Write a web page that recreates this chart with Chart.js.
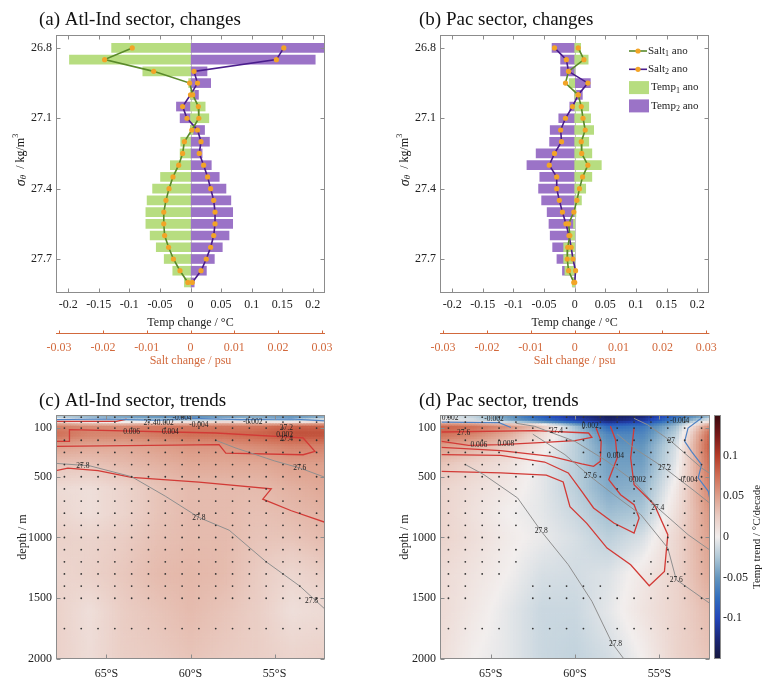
<!DOCTYPE html>
<html>
<head>
<meta charset="utf-8">
<title>Temperature and salinity changes and trends</title>
<script src="https://cdn.jsdelivr.net/npm/chart.js@4.4.1/dist/chart.umd.min.js"></script>
<style>
  body { margin: 0; background: #fff; }
  #fig { position: relative; width: 763px; height: 680px; overflow: hidden; background: #fff; }
  .panel { position: absolute; }
</style>
</head>
<body>
<div id="fig">
  <div class="panel" style="left:0;top:0;width:345px;height:380px"><canvas id="chartA"></canvas></div>
  <div class="panel" style="left:380px;top:0;width:345px;height:380px"><canvas id="chartB"></canvas></div>
  <div class="panel" style="left:0;top:380px;width:345px;height:300px"><canvas id="chartC"></canvas></div>
  <div class="panel" style="left:380px;top:380px;width:383px;height:300px"><canvas id="chartD"></canvas></div>
</div>
<script>
const FONT = "'Liberation Serif', 'Times New Roman', serif";
Chart.defaults.font.family = FONT;
Chart.defaults.color = '#222';

// ---- profiles (a), (b): density levels, kg/m3
const sigmaLevels = [26.8, 26.85, 26.9, 26.95, 27.0, 27.05, 27.1, 27.15, 27.2, 27.25, 27.3,
  27.35, 27.4, 27.45, 27.5, 27.55, 27.6, 27.65, 27.7, 27.75, 27.8];
const sigmaTicks = [26.8, 27.1, 27.4, 27.7];
const tempTicks = [-0.2, -0.15, -0.1, -0.05, 0, 0.05, 0.1, 0.15, 0.2];
const saltTicks = [-0.03, -0.02, -0.01, 0, 0.01, 0.02, 0.03];

// (a) Atl-Ind sector
const tempAtl1 = [-0.129, -0.198, -0.078, -0.003, 0.006, 0.024, 0.030, 0.004, -0.016, -0.017, -0.033,
  -0.049, -0.062, -0.071, -0.073, -0.073, -0.066, -0.056, -0.043, -0.029, -0.010];
const tempAtl2 = [0.23, 0.204, 0.027, 0.033, 0.013, -0.023, -0.017, 0.023, 0.031, 0.019, 0.034,
  0.047, 0.058, 0.066, 0.069, 0.069, 0.063, 0.052, 0.039, 0.026, 0.006];
const saltAtl1 = [-0.0133, -0.0196, -0.0084, -0.0002, 0.0005, 0.0018, 0.0019, 0.0003, -0.0014, -0.0018, -0.0027,
  -0.0040, -0.0049, -0.0056, -0.0061, -0.0061, -0.0059, -0.0050, -0.0039, -0.0024, -0.0006];
const saltAtl2 = [0.0213, 0.0196, 0.0008, 0.0016, 0.0000, -0.0018, -0.0008, 0.0016, 0.0024, 0.0020, 0.0030,
  0.0039, 0.0046, 0.0053, 0.0056, 0.0056, 0.0053, 0.0046, 0.0036, 0.0024, 0.0004];

// (b) Pac sector
const tempPac1 = [0.0098, 0.022, 0.0, -0.009, 0.002, 0.023, 0.026, 0.031, 0.023, 0.028, 0.0435,
  0.028, 0.018, 0.011, 0.002, -0.002, -0.008, -0.018, -0.018, -0.016, -0.004];
const tempPac2 = [-0.037, -0.023, -0.023, 0.0256, 0.0125, -0.008, -0.026, -0.040, -0.041, -0.063, -0.078,
  -0.057, -0.059, -0.054, -0.045, -0.042, -0.040, -0.036, -0.029, -0.020, -0.003];
const saltPac1 = [0.0008, 0.0021, -0.0014, -0.0021, 0.0008, 0.0015, 0.0019, 0.0024, 0.0015, 0.0016, 0.0030,
  0.0018, 0.0011, 0.0005, -0.0002, -0.0014, -0.0011, -0.0016, -0.0017, -0.0014, -0.0002];
const saltPac2 = [-0.0046, -0.0019, -0.0014, 0.0030, 0.0008, -0.0005, -0.0021, -0.0032, -0.0030, -0.0046, -0.0058,
  -0.0041, -0.0041, -0.0035, -0.0028, -0.0020, -0.0013, -0.0008, -0.0004, 0.0002, 0.0000];

// ---- sections (c), (d): temp trend, degC/decade, rows = depth, cols = latitude
const secLats = [-68, -66, -64, -62, -60, -58, -56, -54, -52];
const secDepths = [0, 40, 80, 150, 250, 400, 600, 800, 1000, 1300, 1600, 2000];
const trendAtl = [
  [-0.03, -0.04, -0.05, -0.06, -0.07, -0.06, -0.05, -0.06, -0.05],
  [0.01, -0.01, -0.02, -0.02, -0.01, 0.0, -0.01, -0.02, 0.0],
  [0.065, 0.06, 0.06, 0.07, 0.07, 0.07, 0.07, 0.08, 0.08],
  [0.075, 0.065, 0.065, 0.07, 0.075, 0.075, 0.08, 0.09, 0.09],
  [0.05, 0.045, 0.045, 0.05, 0.055, 0.055, 0.06, 0.065, 0.065],
  [0.03, 0.03, 0.035, 0.04, 0.045, 0.045, 0.045, 0.05, 0.05],
  [0.015, 0.012, 0.02, 0.03, 0.035, 0.035, 0.035, 0.04, 0.045],
  [0.018, 0.012, 0.02, 0.03, 0.035, 0.035, 0.032, 0.035, 0.04],
  [0.022, 0.02, 0.025, 0.032, 0.035, 0.035, 0.03, 0.03, 0.035],
  [0.018, 0.022, 0.028, 0.035, 0.037, 0.035, 0.026, 0.018, 0.025],
  [0.022, 0.012, 0.025, 0.03, 0.035, 0.03, 0.024, 0.012, 0.015],
  [0.022, 0.014, 0.024, 0.026, 0.03, 0.026, 0.024, 0.02, 0.022]
];
const trendPac = [
  [-0.01, -0.02, -0.05, -0.09, -0.12, -0.14, -0.13, -0.08, -0.04],
  [0.0, -0.01, -0.04, -0.07, -0.1, -0.13, -0.11, -0.06, 0.0],
  [0.08, 0.075, 0.06, 0.03, -0.03, -0.08, -0.07, -0.03, 0.06],
  [0.075, 0.065, 0.045, 0.015, -0.02, -0.06, -0.06, -0.02, 0.08],
  [0.05, 0.04, 0.025, 0.005, -0.02, -0.05, -0.05, -0.01, 0.085],
  [0.03, 0.02, 0.01, -0.005, -0.02, -0.045, -0.045, -0.005, 0.075],
  [0.02, 0.012, 0.005, -0.005, -0.02, -0.04, -0.035, 0.005, 0.065],
  [0.02, 0.01, 0.0, -0.005, -0.015, -0.03, -0.025, 0.012, 0.055],
  [0.02, 0.012, 0.003, -0.003, -0.01, -0.02, -0.01, 0.018, 0.05],
  [0.015, 0.008, 0.0, -0.01, -0.012, -0.008, 0.005, 0.02, 0.045],
  [0.015, 0.005, -0.005, -0.015, -0.015, -0.005, 0.008, 0.02, 0.035],
  [0.012, 0.0, -0.005, -0.015, -0.018, -0.012, 0.0, 0.02, 0.03]
];
const latTicks = [-65, -60, -55];
const depthTicks = [100, 500, 1000, 1500, 2000];
const cbarTicks = [-0.1, -0.05, 0, 0.05, 0.1];

// significance stippling
const dotLats = [-67.5, -66.5, -65.5, -64.5, -63.5, -62.5, -61.5, -60.5, -59.5, -58.5, -57.5, -56.5, -55.5, -54.5, -53.5, -52.5];
const dotDepths = [10, 50, 100, 200, 300, 400, 500, 600, 700, 800, 900, 1000, 1100, 1200, 1300, 1400, 1500, 1750, 2000];
const dotMaskAtl = [
  '1111111111111111', '1111111111111111', '1111111111111111', '1111111111111111', '1111111111111111',
  '1111111111111111', '1111111111111111', '1111111111111111', '1111111111111111', '1111111111111111',
  '1111111111111111', '1111111111111111', '1111111111111111', '1111111111111111', '1111111111111111',
  '1111111111111111', '1111111111111111', '1111111111111111', '1111111111111111'
];
const dotMaskPac = [
  '1111111111111111', '1111100011111111', '1111111111111111', '1111111111111111', '1111111011111111',
  '1111110001111111', '1111110001111111', '1111100000111011', '1111100000011011', '1111100000011011',
  '1111100000110111', '1111000000000111', '1111100000000111', '1111100000001111', '1111000000001111',
  '1100011111000110', '1100011111111111', '1111011110111111', '0000000000000000'
];

// contour lines, [lat, depth]
const isoAtl278 = [[-68, 390], [-66, 410], [-63.5, 500], [-61.5, 660], [-59.5, 835], [-57.7, 940], [-55.5, 1200], [-53.5, 1400], [-52, 1590]];
const isoAtl276 = [[-58.5, 200], [-57.3, 264], [-55, 370], [-53.5, 428], [-52, 505]];
const redAtl1 = [[-68, 45], [-64.4, 45], [-63.8, 25]];
const redAtl2 = [[-68, 250], [-58.3, 236], [-57.9, 305], [-53.3, 319], [-52.6, 291], [-53.3, 181], [-58.5, 140],
  [-67.2, 113], [-67.2, 209], [-68, 209]];
const redAtl3 = [[-68, 450], [-67.3, 430], [-65.5, 450], [-63.5, 505], [-59.5, 545], [-55.2, 600], [-55.7, 685], [-54, 780], [-52, 875]];
const blueAtl = [[-68, 30], [-65, 25], [-62, 35], [-60, 20], [-57, 30], [-54, 25], [-52, 40]];
const tagsAtl = [[-63.5, 132, '0.006'], [-62.4, 58, '27.4'], [-61.5, 58, '0.002'], [-60.5, 17, '-0.004'], [-59.5, 77, '-0.004'],
  [-61.2, 132, '0.004'], [-56.3, 50, '-0.002'], [-54.3, 99, '27.2'], [-54.4, 159, '0.002'], [-54.3, 187, '27.4'],
  [-66.4, 414, '27.8'], [-53.5, 428, '27.6'], [-59.5, 840, '27.8'], [-52.8, 1520, '27.8']];

const isoPac278 = [[-66.5, 400], [-65.4, 483], [-63.4, 675], [-62, 949], [-60.4, 1224], [-59, 1525], [-57.8, 1870], [-57.1, 2000]];
const isoPac276 = [[-62.5, 150], [-60.6, 318], [-59.1, 497], [-57.7, 648], [-56.1, 812], [-54.5, 1087], [-54, 1347], [-51.9, 1553]];
const isoPac274 = [[-63.5, 60], [-62.4, 85], [-60, 209], [-58.1, 373], [-56.5, 538], [-55.1, 757], [-53.3, 977], [-51.9, 1114]];
const isoPac272 = [[-57.5, 150], [-56.5, 264], [-54.7, 428], [-52.9, 620], [-51.9, 730]];
const isoPac270 = [[-56.5, 20], [-55.7, 72], [-54.3, 209], [-52.5, 428], [-51.9, 483]];
const redPac1 = [[-67.9, 132], [-62.4, 121], [-59.2, 140], [-59, 176], [-60, 203], [-61.8, 217], [-64.4, 236], [-66.3, 242], [-67.9, 209]];
const redPac2 = [[-67.9, 258], [-64.4, 286], [-61.4, 332], [-59.6, 395], [-58.9, 414], [-58.5, 373], [-58.45, 209], [-58.75, 99]];
const redPac3 = [[-67.9, 318], [-64.4, 324], [-61.8, 379], [-60.4, 469], [-59.6, 620], [-58.9, 757], [-57.7, 881], [-56.5, 963],
  [-56.2, 840], [-56.5, 730], [-57.3, 648], [-58, 524], [-57.5, 346], [-57.6, 195], [-57.9, 85]];
const redPac4 = [[-67.9, 456], [-64.4, 469], [-61.7, 486], [-60.7, 543], [-60.3, 746], [-59.3, 884], [-58.1, 1087], [-56.7, 1224],
  [-55.6, 1397], [-54.7, 1279], [-54.5, 977], [-55.3, 730], [-56.5, 565], [-56.7, 346], [-56.5, 99]];
const bluePac1 = [[-52.5, 17], [-53.3, 99], [-53.5, 209], [-53.1, 291], [-52.5, 401], [-52.7, 510], [-52.1, 620], [-51.9, 757]];
const bluePac2 = [[-67.9, 50], [-64.5, 55], [-63.8, 95]];
const tagsPac = [[-67.4, 17, '0.002'], [-64.8, 22, '-0.002'], [-66.6, 140, '27.6'], [-65.7, 242, '0.006'], [-64.1, 231, '0.008'],
  [-61.1, 121, '27.4'], [-59.1, 85, '0.002'], [-57.6, 332, '0.004'], [-59.1, 497, '27.6'], [-56.3, 524, '0.002'],
  [-55.1, 757, '27.4'], [-54.3, 209, '27'], [-54.7, 428, '27.2'], [-53.8, 44, '-0.004'], [-53.3, 524, '-0.004'],
  [-62, 949, '27.8'], [-54, 1347, '27.6'], [-57.6, 1880, '27.8']];

// ---- styles
const GREEN_BAR = '#b7dd80', PURPLE_BAR = '#9b73c7';
const GREEN_LINE = '#5a8a2a', PURPLE_LINE = '#4a1d8c', ORANGE = '#f2a427', SALT = '#d2693c';
const RED_C = '#d23a36', GRAY_C = '#8f8f8f', BLUE_C = '#4f82c4';
const balance = [
  [-0.15, [22, 23, 60]], [-0.125, [28, 40, 120]], [-0.1, [35, 70, 185]], [-0.075, [50, 110, 190]],
  [-0.05, [100, 150, 190]], [-0.025, [175, 200, 215]], [0, [242, 238, 237]], [0.025, [234, 205, 196]],
  [0.05, [222, 160, 140]], [0.075, [208, 110, 85]], [0.1, [180, 60, 40]], [0.125, [120, 25, 25]], [0.15, [55, 10, 15]]
];

function trendColor(v) {
  const t = Math.max(-0.15, Math.min(0.15, v));
  for (let k = 0; k < balance.length - 1; k++) {
    const a = balance[k], b = balance[k + 1];
    if (t <= b[0]) {
      const f = (t - a[0]) / (b[0] - a[0]);
      const c = a[1].map((ch, n) => Math.round(ch + (b[1][n] - ch) * f));
      return `rgb(${c[0]},${c[1]},${c[2]})`;
    }
  }
  return 'rgb(55,10,15)';
}

function stroke(ctx, x0, y0, x1, y1) {
  ctx.beginPath(); ctx.moveTo(x0, y0); ctx.lineTo(x1, y1); ctx.stroke();
}

function drawRich(ctx, parts, x, y, center) {
  const fontOf = p => (p.italic ? 'italic ' : '') + p.size + 'px ' + FONT;
  let w = 0;
  parts.forEach(p => { ctx.font = fontOf(p); w += ctx.measureText(p.t).width; });
  let cx = center ? x - w / 2 : x;
  ctx.textAlign = 'left';
  parts.forEach(p => {
    ctx.font = fontOf(p);
    ctx.fillText(p.t, cx, y + (p.dy || 0));
    cx += ctx.measureText(p.t).width;
  });
}

const setTicks = list => s => { s.ticks = list.map(v => ({ value: v })); };

// box, inward ticks, panel title, custom axis titles
const frame = {
  id: 'frame',
  beforeDatasetsDraw(chart, args, o) {
    if (!o.zeroLine) return;
    const { ctx, chartArea: ca, scales: { x } } = chart;
    const zx = Math.round(x.getPixelForValue(0)) + 0.5;
    ctx.save();
    ctx.strokeStyle = '#c4c4c4'; ctx.lineWidth = 1;
    stroke(ctx, zx, ca.top, zx, ca.bottom);
    ctx.restore();
  },
  afterDraw(chart, args, o) {
    const { ctx, chartArea: ca, scales } = chart;
    const L = Math.round(ca.left) + 0.5, R = Math.round(ca.right) - 0.5;
    const T = Math.round(ca.top) + 0.5, B = Math.round(ca.bottom) - 0.5;
    ctx.save();
    ctx.strokeStyle = '#8c8c8c'; ctx.lineWidth = 1;
    ctx.strokeRect(L, T, R - L, B - T);
    scales.x.ticks.forEach(t => {
      const px = Math.round(scales.x.getPixelForValue(t.value)) + 0.5;
      stroke(ctx, px, B, px, B - 4); stroke(ctx, px, T, px, T + 4);
    });
    scales.y.ticks.forEach(t => {
      const py = Math.round(scales.y.getPixelForValue(t.value)) + 0.5;
      stroke(ctx, L, py, L + 4, py); stroke(ctx, R, py, R - 4, py);
    });
    if (scales.xs) {
      const xs = scales.xs, yy = Math.round(xs.top) + 0.5;
      ctx.strokeStyle = SALT;
      stroke(ctx, ca.left, yy, ca.right, yy);
      xs.ticks.forEach(t => {
        const px = Math.round(xs.getPixelForValue(t.value)) + 0.5;
        stroke(ctx, px, yy, px, yy - 3);
      });
    }
    ctx.fillStyle = '#111'; ctx.textBaseline = 'middle'; ctx.textAlign = 'left';
    ctx.font = '19px ' + FONT;
    ctx.fillText(o.title, o.titleX, o.titleY);
    if (o.yParts) {
      ctx.save();
      ctx.translate(o.yTitleX, (ca.top + ca.bottom) / 2 + o.yTitleDy);
      ctx.rotate(-Math.PI / 2);
      drawRich(ctx, o.yParts, 0, 0, true);
      ctx.restore();
    }
    ctx.restore();
  }
};

// in-axes legend of panel (b)
const keyBox = {
  id: 'keyBox',
  afterDraw(chart, args, o) {
    if (!o.items) return;
    const ctx = chart.ctx;
    ctx.save(); ctx.textBaseline = 'middle';
    chart.data.datasets.forEach((ds, i) => {
      const y = o.y + i * o.dy;
      let tx;
      if (ds.type === 'line') {
        ctx.strokeStyle = ds.borderColor; ctx.lineWidth = ds.borderWidth;
        stroke(ctx, o.x, y, o.x + 18, y);
        ctx.fillStyle = ds.pointBackgroundColor;
        ctx.beginPath(); ctx.arc(o.x + 9, y, ds.pointRadius, 0, 2 * Math.PI); ctx.fill();
        tx = o.x + 19;
      } else {
        ctx.fillStyle = ds.backgroundColor;
        ctx.fillRect(o.x, y - 6.5, 20, 13);
        tx = o.x + 22;
      }
      ctx.fillStyle = '#222';
      drawRich(ctx, o.items[i], tx, y, false);
    });
    ctx.restore();
  }
};

// shaded trend field, contour labels, colorbar
const section = {
  id: 'section',
  beforeDatasetsDraw(chart, args, o) {
    const { ctx, chartArea: ca, scales: { x, y } } = chart;
    const v = o.values;
    ctx.save();
    ctx.beginPath(); ctx.rect(ca.left, ca.top, ca.width, ca.height); ctx.clip();
    for (let j = 0; j < secDepths.length - 1; j++) {
      for (let i = 0; i < secLats.length - 1; i++) {
        const x0 = x.getPixelForValue(secLats[i]), x1 = x.getPixelForValue(secLats[i + 1]);
        const y0 = j === 0 ? ca.top : y.getPixelForValue(secDepths[j]);
        const y1 = y.getPixelForValue(secDepths[j + 1]);
        const nx = Math.max(1, Math.ceil((x1 - x0) / 3)), ny = Math.max(1, Math.ceil((y1 - y0) / 3));
        for (let a = 0; a < nx; a++) {
          for (let b = 0; b < ny; b++) {
            const u = (a + 0.5) / nx, w = (b + 0.5) / ny;
            const val = v[j][i] * (1 - u) * (1 - w) + v[j][i + 1] * u * (1 - w)
              + v[j + 1][i] * (1 - u) * w + v[j + 1][i + 1] * u * w;
            ctx.fillStyle = trendColor(val);
            ctx.fillRect(x0 + (x1 - x0) * a / nx, y0 + (y1 - y0) * b / ny, (x1 - x0) / nx + 0.7, (y1 - y0) / ny + 0.7);
          }
        }
      }
    }
    ctx.restore();
  },
  afterDatasetsDraw(chart, args, o) {
    const { ctx, chartArea: ca, scales: { x, y } } = chart;
    ctx.save();
    ctx.beginPath(); ctx.rect(ca.left, ca.top, ca.width, ca.height); ctx.clip();
    ctx.fillStyle = '#222'; ctx.font = '7.5px ' + FONT;
    ctx.textAlign = 'center'; ctx.textBaseline = 'middle';
    o.tags.forEach(t => ctx.fillText(t[2], x.getPixelForValue(t[0]), y.getPixelForValue(t[1])));
    ctx.restore();
  },
  afterDraw(chart, args, o) {
    if (!o.colorbar) return;
    const { ctx, chartArea: ca, scales: { cb } } = chart;
    const x0 = Math.round(ca.right) + 4, w = 7;
    const top = cb.getPixelForValue(0.15), bot = cb.getPixelForValue(-0.15);
    const g = ctx.createLinearGradient(0, top, 0, bot);
    balance.forEach(s => g.addColorStop((cb.getPixelForValue(s[0]) - top) / (bot - top), trendColor(s[0])));
    ctx.save();
    ctx.fillStyle = g; ctx.fillRect(x0, top, w, bot - top);
    ctx.strokeStyle = '#8c8c8c'; ctx.lineWidth = 1;
    ctx.strokeRect(x0 + 0.5, top + 0.5, w - 1, bot - top - 1);
    ctx.fillStyle = '#222'; ctx.textBaseline = 'middle';
    ctx.translate(chart.width - 6, (top + bot) / 2);
    ctx.rotate(-Math.PI / 2);
    drawRich(ctx, [{ t: 'Temp trend / \u00b0C/decade', size: 11 }], 0, 0, true);
    ctx.restore();
  }
};

const pairs = (vals, levels) => vals.map((v, i) => ({ x: v, y: levels[i] }));
const sigmaTitle = [{ t: '\u03c3', size: 14, italic: true }, { t: '\u03b8', size: 9, italic: true, dy: 3 },
  { t: '  / kg/m', size: 12 }, { t: '3', size: 8, dy: -5 }];
const keyItems = [
  [{ t: 'Salt', size: 11 }, { t: '1', size: 8, dy: 3 }, { t: ' ano', size: 11 }],
  [{ t: 'Salt', size: 11 }, { t: '2', size: 8, dy: 3 }, { t: ' ano', size: 11 }],
  [{ t: 'Temp', size: 11 }, { t: '1', size: 8, dy: 3 }, { t: ' ano', size: 11 }],
  [{ t: 'Temp', size: 11 }, { t: '2', size: 8, dy: 3 }, { t: ' ano', size: 11 }]
];

function profileChart(id, t1, t2, s1, s2, p) {
  const lineSet = (label, vals, color) => ({
    type: 'line', label, data: pairs(vals, sigmaLevels), xAxisID: 'xs', yAxisID: 'y',
    borderColor: color, borderWidth: 1.6, pointRadius: 2.6, pointBackgroundColor: ORANGE,
    pointBorderWidth: 0, tension: 0, fill: false, order: 0
  });
  const barSet = (label, vals, color, order) => ({
    type: 'bar', label, data: pairs(vals, sigmaLevels), xAxisID: 'x', yAxisID: 'y',
    backgroundColor: color, borderWidth: 0, barThickness: 9, grouped: false, order
  });
  return new Chart(document.getElementById(id), {
    type: 'bar',
    data: {
      datasets: [
        lineSet('Salt\u2081 ano', s1, GREEN_LINE),
        lineSet('Salt\u2082 ano', s2, PURPLE_LINE),
        barSet('Temp\u2081 ano', t1, GREEN_BAR, 1),
        barSet('Temp\u2082 ano', t2, PURPLE_BAR, 2)
      ]
    },
    options: {
      indexAxis: 'y',
      responsive: true, maintainAspectRatio: false, animation: false, events: [],
      layout: { padding: { top: 35, right: p.padRight, left: 0, bottom: 0 } },
      plugins: {
        legend: { display: false }, tooltip: { enabled: false },
        frame: { zeroLine: true, title: p.title, titleX: 39, titleY: 20, yParts: sigmaTitle, yTitleX: p.yTitleX, yTitleDy: -4 },
        keyBox: { items: p.legend ? keyItems : null, x: 249, y: 51, dy: 18.3 }
      },
      scales: {
        x: {
          type: 'linear', position: 'bottom', min: -0.22, max: 0.22, offset: false,
          afterBuildTicks: setTicks(tempTicks), afterFit: s => { s.height = 40; },
          grid: { display: false, drawTicks: false }, border: { display: false },
          ticks: { callback: v => String(v), padding: 5, autoSkip: false, maxRotation: 0, color: '#222', font: { size: 12 } },
          title: { display: true, text: 'Temp change / \u00b0C', color: '#222', font: { size: 12 }, padding: { top: 0, bottom: 3 } }
        },
        xs: {
          type: 'linear', axis: 'x', position: 'bottom', weight: 1, min: -0.0307, max: 0.0307, offset: false,
          afterBuildTicks: setTicks(saltTicks), afterFit: s => { s.height = 47; },
          grid: { display: false, drawTicks: false }, border: { display: false },
          ticks: { callback: v => String(v), padding: 8, autoSkip: false, maxRotation: 0, color: SALT, font: { size: 12 } },
          title: { display: true, text: 'Salt change / psu', color: SALT, font: { size: 12 }, padding: { top: 0, bottom: 12 } }
        },
        y: {
          type: 'linear', reverse: true, min: 26.745, max: 27.845, offset: false,
          afterBuildTicks: setTicks(sigmaTicks), afterFit: s => { s.width = p.yWidth; },
          grid: { display: false, drawTicks: false }, border: { display: false },
          ticks: { callback: v => v.toFixed(1), padding: 4, color: '#222', font: { size: 12 } }
        }
      }
    },
    plugins: [frame, keyBox]
  });
}

function sectionChart(id, trend, mask, lines, tags, p) {
  const dots = [];
  dotDepths.forEach((d, j) => dotLats.forEach((lat, i) => { if (mask[j][i] === '1') dots.push({ x: lat, y: d }); }));
  const datasets = lines.map(l => ({
    data: l.pts.map(q => ({ x: q[0], y: q[1] })), showLine: true, borderColor: l.color,
    borderWidth: l.width, pointRadius: 0, fill: false, tension: 0, order: 1
  }));
  datasets.push({ data: dots, pointRadius: 0.9, backgroundColor: '#333', borderWidth: 0, order: 0 });
  const scales = {
    x: {
      type: 'linear', position: 'bottom', min: -68, max: -52,
      afterBuildTicks: setTicks(latTicks), afterFit: s => { s.height = 21; },
      grid: { display: false, drawTicks: false }, border: { display: false },
      ticks: { callback: v => Math.abs(v) + '\u00b0S', padding: 8, autoSkip: false, maxRotation: 0, color: '#222', font: { size: 12 } }
    },
    y: {
      type: 'linear', reverse: true, min: -8, max: 2000,
      afterBuildTicks: setTicks(depthTicks), afterFit: s => { s.width = p.yWidth; },
      grid: { display: false, drawTicks: false }, border: { display: false },
      ticks: { callback: v => String(v), padding: 4, color: '#222', font: { size: 12 } },
      title: { display: true, text: 'depth / m', color: '#222', font: { size: 12 }, padding: { top: p.yTitlePad, bottom: 0 } }
    }
  };
  if (p.colorbar) {
    scales.cb = {
      type: 'linear', axis: 'y', position: 'right', min: -0.15, max: 0.15,
      afterBuildTicks: setTicks(cbarTicks), afterFit: s => { s.width = 53; },
      grid: { display: false, drawTicks: false }, border: { display: false },
      ticks: { callback: v => String(v), padding: 13, color: '#222', font: { size: 12 } }
    };
  }
  return new Chart(document.getElementById(id), {
    type: 'scatter',
    data: { datasets },
    options: {
      responsive: true, maintainAspectRatio: false, animation: false, events: [],
      layout: { padding: { top: 35, right: p.padRight, left: 0, bottom: 0 } },
      plugins: {
        legend: { display: false }, tooltip: { enabled: false },
        frame: { title: p.title, titleX: 39, titleY: 21 },
        section: { values: trend, tags, colorbar: !!p.colorbar }
      },
      scales
    },
    plugins: [section, frame]
  });
}

profileChart('chartA', tempAtl1, tempAtl2, saltAtl1, saltAtl2,
  { title: '(a) Atl-Ind sector, changes', yWidth: 56, padRight: 20, yTitleX: 21, legend: false });
profileChart('chartB', tempPac1, tempPac2, saltPac1, saltPac2,
  { title: '(b) Pac sector, changes', yWidth: 60, padRight: 15, yTitleX: 25, legend: true });

sectionChart('chartC', trendAtl, dotMaskAtl, [
  { pts: isoAtl278, color: GRAY_C, width: 1 },
  { pts: isoAtl276, color: GRAY_C, width: 1 },
  { pts: blueAtl, color: BLUE_C, width: 1.2 },
  { pts: redAtl1, color: RED_C, width: 1.3 },
  { pts: redAtl2, color: RED_C, width: 1.3 },
  { pts: redAtl3, color: RED_C, width: 1.3 }
], tagsAtl, { title: '(c) Atl-Ind sector, trends', yWidth: 56, padRight: 20, yTitlePad: 16 });

sectionChart('chartD', trendPac, dotMaskPac, [
  { pts: isoPac278, color: GRAY_C, width: 1 },
  { pts: isoPac276, color: GRAY_C, width: 1 },
  { pts: isoPac274, color: GRAY_C, width: 1 },
  { pts: isoPac272, color: GRAY_C, width: 1 },
  { pts: isoPac270, color: GRAY_C, width: 1 },
  { pts: bluePac1, color: BLUE_C, width: 1.2 },
  { pts: bluePac2, color: BLUE_C, width: 1.2 },
  { pts: redPac1, color: RED_C, width: 1.3 },
  { pts: redPac2, color: RED_C, width: 1.3 },
  { pts: redPac3, color: RED_C, width: 1.3 },
  { pts: redPac4, color: RED_C, width: 1.3 }
], tagsPac, { title: '(d) Pac sector, trends', yWidth: 60, padRight: 0, yTitlePad: 18, colorbar: true });
</script>
</body>
</html>
